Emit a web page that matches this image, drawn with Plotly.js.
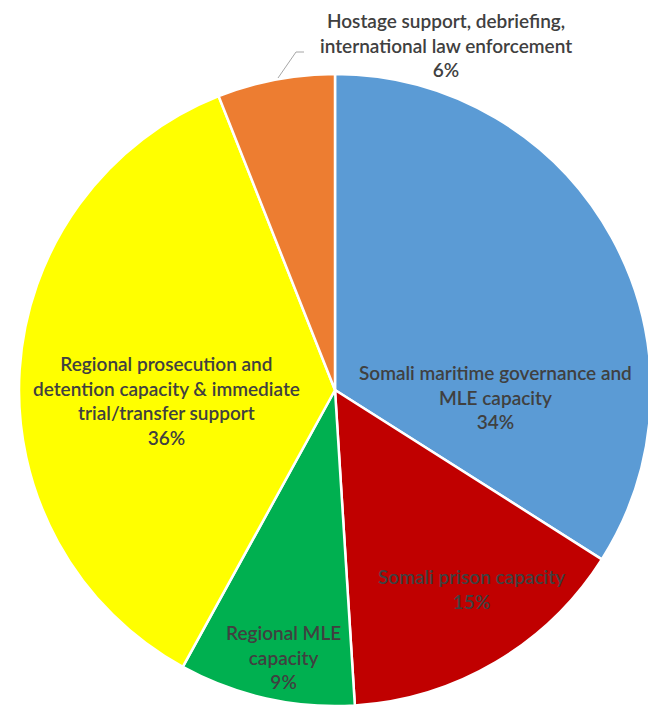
<!DOCTYPE html>
<html>
<head>
<meta charset="utf-8">
<script src="https://cdn.plot.ly/plotly-3.0.1.min.js"></script>
<style>
html,body{margin:0;padding:0;overflow:hidden;background:#fff;width:648px;height:707px;}
#chart{width:660px;height:707px;}
</style>
</head>
<body>
<div id="chart"></div>
<script>
// Data
var categories = [
  "Somali maritime governance and MLE capacity",
  "Somali prison capacity",
  "Regional MLE capacity",
  "Regional prosecution and detention capacity & immediate trial/transfer support",
  "Hostage support, debriefing, international law enforcement"
];
var displayLabels = [
  "Somali maritime governance and<br>MLE capacity",
  "Somali prison capacity",
  "Regional MLE<br>capacity",
  "Regional prosecution and<br>detention capacity & immediate<br>trial/transfer support",
  "Hostage support, debriefing,<br>international law enforcement"
];
var values = [34, 15, 9, 36, 6];
var colors = ["#5B9BD5", "#C00000", "#00B050", "#FFFF00", "#ED7D31"];

var W = 660, H = 707;
// label anchor points in pixels (center x, center y)
var labelPos = [[496, 397], [471, 589], [283, 657], [166, 400], [446, 45]];

var total = values.reduce(function(a,b){return a+b;},0);
var annotations = displayLabels.map(function(t, i){
  var pct = Math.round(values[i] / total * 100) + "%";
  return {
    text: t + "<br>" + pct,
    x: labelPos[i][0] / W, y: 1 - labelPos[i][1] / H,
    xref: "paper", yref: "paper",
    xanchor: "center", yanchor: "middle",
    showarrow: false,
    align: "center",
    font: {family: "Lato, 'Open Sans', sans-serif", size: 19, color: "#404040", weight: 600}
  };
});
// leader line for small slice
var shapes = [{
  type: "path", xref: "paper", yref: "paper",
  path: "M " + (278/W) + " " + (1-78/H) + " L " + (296/W) + " " + (1-52/H) + " L " + (304/W) + " " + (1-52/H),
  line: {color: "#A6A6A6", width: 1}
}];

var cx = 335, cy = 390, r = 316;
var trace = {
  type: "pie",
  labels: categories,
  values: values,
  sort: false,
  direction: "clockwise",
  rotation: 0,
  textinfo: "none",
  hoverinfo: "none",
  marker: {colors: colors, line: {color: "#FFFFFF", width: 2.5}},
  domain: {x: [(cx - r) / W, (cx + r) / W], y: [1 - (cy + r) / H, 1 - (cy - r) / H]},
  showlegend: false
};

Plotly.newPlot("chart", [trace], {
  width: W, height: H,
  margin: {l: 0, r: 0, t: 0, b: 0, pad: 0},
  paper_bgcolor: "#FFFFFF",
  showlegend: false,
  annotations: annotations,
  shapes: shapes
}, {staticPlot: true});
</script>
</body>
</html>
